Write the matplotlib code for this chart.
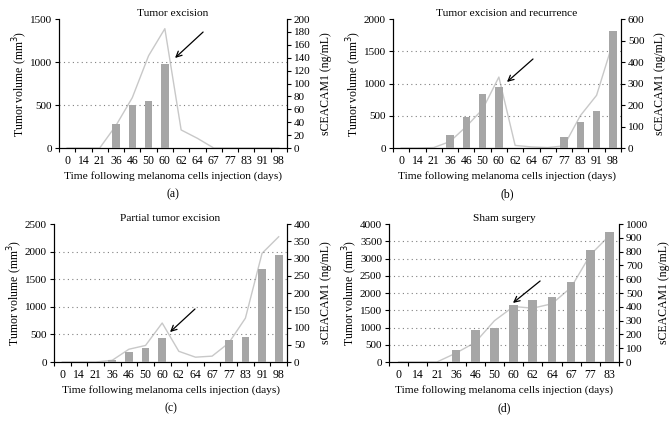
import matplotlib.pyplot as plt
import numpy as np

plt.rcParams['font.family'] = ['Liberation Serif', 'DejaVu Serif']

days_long = ["0", "14", "21", "36", "46", "50", "60", "62", "64", "67", "77", "83", "91", "98"]
days_sham = ["0", "14", "21", "36", "46", "50", "60", "62", "64", "67", "77", "83"]

# tumor volume (mm3), bars
vol_a = [0, 0, 0, 280, 500, 550, 975, 0, 0, 0, 0, 0, 0, 0]
vol_b = [0, 0, 0, 200, 480, 840, 950, 0, 0, 0, 170, 400, 580, 1810]
vol_c = [0, 0, 0, 40, 190, 260, 440, 0, 0, 0, 390, 450, 1680, 1930]
vol_d = [0, 0, 0, 350, 940, 980, 1640, 1810, 1890, 2330, 3250, 3760]

# sCEACAM1 (ng/mL), line
cea_a = [0, 0, 0, 35, 78, 143, 185, 28, 15, 0, 0, 0, 0, 0]
cea_b = [0, 0, 2, 30, 100, 180, 330, 12, 5, 2, 10, 150, 245, 490]
cea_c = [0, 0, 0, 5, 37, 48, 113, 31, 14, 17, 55, 127, 315, 363]
cea_d = [0, 0, 0, 65, 142, 299, 402, 390, 422, 540, 776, 916]

titles = ["Tumor excision", "Tumor excision and recurrence",
          "Partial tumor excision", "Sham surgery"]
letters = ["(a)", "(b)", "(c)", "(d)"]

specs = [
    # days, vol, cea, left max, left step, right max, right step, axes box (px), arrow (tip, tail) in axes frac
    (days_long, vol_a, cea_a, 1500, 500, 200, 20, (59, 19, 287, 148), ((0.509, 0.698), (0.632, 0.899))),
    (days_long, vol_b, cea_b, 2000, 500, 600, 100, (393, 19, 621, 148), ((0.50, 0.512), (0.614, 0.69))),
    (days_long, vol_c, cea_c, 2500, 500, 400, 50, (54, 224, 287, 362), ((0.498, 0.217), (0.605, 0.384))),
    (days_sham, vol_d, cea_d, 4000, 500, 1000, 100, (389, 224, 619, 362), ((0.539, 0.428), (0.657, 0.587))),
]

W, H = 671, 423
fig = plt.figure(figsize=(W / 100, H / 100), dpi=100)

for i, (days, vol, cea, lmax, lstep, rmax, rstep, box, arr) in enumerate(specs):
    x0, y0, x1, y1 = box
    ax = fig.add_axes([x0 / W, 1 - y1 / H, (x1 - x0) / W, (y1 - y0) / H])
    ax2 = ax.twinx()
    ax.set_zorder(ax2.get_zorder() + 1)
    ax.patch.set_visible(False)

    x = np.arange(len(days))
    ax.bar(x, vol, width=0.46, color="#a6a6a6", zorder=3)
    ax2.plot(x, cea, color="#c8c8c8", lw=1.0, zorder=1)

    ax.set_xlim(-0.5, len(days) - 0.5)
    ax.set_ylim(0, lmax)
    ax2.set_ylim(0, rmax)
    ax.set_yticks(np.arange(0, lmax + 1, lstep))
    ax2.set_yticks(np.arange(0, rmax + 1, rstep))
    ax.set_xticks(x)
    ax.set_xticklabels(days)
    ax.set_xticks(np.arange(-0.5, len(days), 1), minor=True)
    ax.tick_params(axis="x", which="major", length=0, labelsize=8.5, pad=5)
    ax.tick_params(axis="x", which="minor", length=3, width=0.8)
    ax.tick_params(axis="y", length=3, width=0.8, labelsize=8, pad=2)
    ax2.tick_params(axis="y", length=3, width=0.8, labelsize=8, pad=2)

    for yv in np.arange(lstep, lmax, lstep):
        ax.axhline(yv, color="#808080", ls=(0, (1, 3)), lw=0.8, zorder=0)

    for a in (ax, ax2):
        a.spines["top"].set_visible(False)
        for s in a.spines.values():
            s.set_linewidth(0.8)

    ax.set_title(titles[i], fontsize=8.2, pad=2)
    ax.set_ylabel("Tumor volume (mm$^3$)", fontsize=8.5, labelpad=0)
    ax2.set_ylabel("sCEACAM1 (ng/mL)", fontsize=8.5, labelpad=7)
    ax.set_xlabel("Time following melanoma cells injection (days)", fontsize=8.2, labelpad=3)

    ax.annotate("", xy=arr[0], xytext=arr[1], xycoords="axes fraction",
                arrowprops=dict(arrowstyle="->", color="black", lw=0.9,
                                shrinkA=0, shrinkB=0))

    fig.text((x0 + x1) / 2 / W, 1 - (y1 + 46) / H, letters[i],
             ha="center", va="center", fontsize=8.5)

fig.savefig("out.png", dpi=100)
